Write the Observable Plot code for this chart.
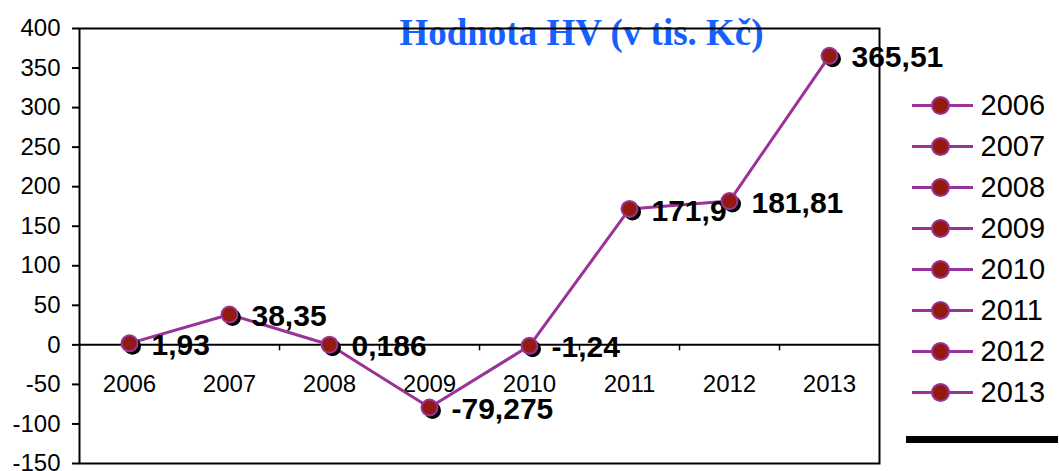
<!DOCTYPE html>
<html>
<head>
<meta charset="utf-8">
<script src="https://cdn.jsdelivr.net/npm/d3@7"></script>
<script src="https://cdn.jsdelivr.net/npm/@observablehq/plot@0.6"></script>
<style>
  html, body { margin: 0; padding: 0; background: white; }
  #wrap { position: relative; width: 1059px; height: 471px; overflow: hidden; }
  #main, #legend { position: absolute; top: 0; }
  #main { left: 0; }
  #legend { left: 880px; }
  #bar { position: absolute; left: 906px; top: 436px; width: 152px; height: 7px; background: black; }
</style>
</head>
<body>
<div id="wrap"><div id="main"></div><div id="legend"></div><div id="bar"></div></div>
<script>
const categories = ["2006", "2007", "2008", "2009", "2010", "2011", "2012", "2013"];
const values = [1.93, 38.35, 0.186, -79.275, -1.24, 171.9, 181.81, 365.51];
const yTicks = [-150, -100, -50, 0, 50, 100, 150, 200, 250, 300, 350, 400];
const titleText = "Hodnota HV (v tis. Kč)";

const lineColor = "#993399";
const markerFill = "#941a10";
const sans = "'Liberation Sans', Arial, sans-serif";

const data = categories.map((c, i) => ({
  cat: c, idx: i + 1, value: values[i], label: String(values[i]).replace(".", ",")
}));
const boundaries = d3.range(1.5, categories.length, 1);

const main = Plot.plot({
  width: 1059, height: 471,
  marginLeft: 79, marginRight: 180, marginTop: 28, marginBottom: 8,
  style: { fontFamily: sans, fontSize: "24px", color: "black", background: "transparent", overflow: "visible" },
  x: { type: "linear", domain: [0.5, categories.length + 0.5], axis: null },
  y: { domain: [-150, 400] },
  marks: [
    Plot.text([titleText], { frameAnchor: "top", lineAnchor: "middle", dx: 102, dy: 5, fontFamily: "'Liberation Serif', 'Times New Roman', serif", fontWeight: "bold", fontSize: 37, fill: "#1560ff" }),
    Plot.axisY({ ticks: yTicks, tickSize: 7, tickPadding: 12, tickFormat: d => String(d), fontSize: 24, label: null, strokeWidth: 2 }),
    Plot.ruleY([0], { stroke: "black", strokeWidth: 2 }),
    Plot.ruleX(boundaries, { x: d => d, y1: 0, y2: 0, insetBottom: -6, stroke: "black", strokeWidth: 1.5 }),
    Plot.text(data, { x: "idx", y: 0, text: "cat", dy: 39, fontSize: 24 }),
    Plot.line(data, { x: "idx", y: "value", stroke: lineColor, strokeWidth: 3 }),
    Plot.text(data, { x: "idx", y: "value", text: "label", textAnchor: "start", dx: 22, dy: 2, fontSize: 30, fontWeight: "bold", fill: "black" }),
    Plot.dot(data, { x: "idx", y: "value", r: 8.5, fill: "black", dx: 3, dy: 3 }),
    Plot.dot(data, { x: "idx", y: "value", r: 8, fill: markerFill, stroke: lineColor, strokeWidth: 2 }),
    Plot.frame({ stroke: "black", strokeWidth: 2 })
  ]
});
document.getElementById("main").appendChild(main);

const legend = Plot.plot({
  width: 179, height: 471,
  marginLeft: 32, marginRight: 0, marginTop: 0, marginBottom: 0,
  style: { fontFamily: sans, color: "black", background: "transparent", overflow: "visible" },
  x: { domain: [0, 1], axis: null },
  y: { type: "point", domain: categories, range: [82, 415], axis: null },
  marks: [
    Plot.ruleY(categories, { y: d => d, insetRight: 86, stroke: lineColor, strokeWidth: 3 }),
    Plot.dot(categories, { y: d => d, frameAnchor: "left", dx: 28, r: 8.5, fill: markerFill, stroke: lineColor, strokeWidth: 2 }),
    Plot.text(categories, { y: d => d, frameAnchor: "left", dx: 68, textAnchor: "start", fontSize: 29, fill: "black" })
  ]
});
document.getElementById("legend").appendChild(legend);
</script>
</body>
</html>
